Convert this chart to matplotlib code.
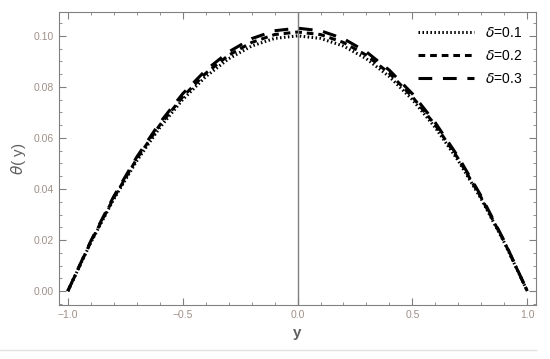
import matplotlib

matplotlib.use("Agg")
import matplotlib.pyplot as plt
from matplotlib.lines import Line2D
from matplotlib.ticker import MultipleLocator

# y grid and theta(y) profiles
y = [-1.0, -0.9, -0.8, -0.7, -0.6, -0.5, -0.4, -0.3, -0.2, -0.1, 0.0,
     0.1, 0.2, 0.3, 0.4, 0.5, 0.6, 0.7, 0.8, 0.9, 1.0]
theta_d1 = [0.0, 0.0190, 0.0360, 0.0510, 0.0640, 0.0750, 0.0840, 0.0910, 0.0960, 0.0990, 0.1000,
            0.0990, 0.0960, 0.0910, 0.0840, 0.0750, 0.0640, 0.0510, 0.0360, 0.0190, 0.0]
theta_d2 = [0.0, 0.0193, 0.0365, 0.0518, 0.0650, 0.0761, 0.0853, 0.0924, 0.0974, 0.1005, 0.1015,
            0.1005, 0.0974, 0.0924, 0.0853, 0.0761, 0.0650, 0.0518, 0.0365, 0.0193, 0.0]
theta_d3 = [0.0, 0.0196, 0.0371, 0.0525, 0.0659, 0.0773, 0.0865, 0.0937, 0.0989, 0.1020, 0.1030,
            0.1020, 0.0989, 0.0937, 0.0865, 0.0773, 0.0659, 0.0525, 0.0371, 0.0196, 0.0]
labels = [r"$\delta$=0.1", r"$\delta$=0.2", r"$\delta$=0.3"]

plt.rcParams["font.family"] = ["Liberation Sans", "DejaVu Sans"]
plt.rcParams["mathtext.fontset"] = "dejavusans"

frame_col = "#808080"
tick_col = "#a09088"

fig = plt.figure(figsize=(5.5, 3.59), dpi=100)
ax = fig.add_axes([0.107, 0.150, 0.868, 0.817])

ax.plot(y, theta_d1, color="black", lw=2.2, linestyle=(0, (0.5, 0.8)), label=labels[0])
ax.plot(y, theta_d2, color="black", lw=2.2, linestyle=(0, (2.2, 1.6)), label=labels[1])
ax.plot(y, theta_d3, color="black", lw=2.2, linestyle=(0, (4.5, 3.5)), label=labels[2])
ax.axvline(0, color=frame_col, lw=1)

ax.set_xlim(-1.039, 1.039)
ax.set_ylim(-0.0055, 0.1094)
ax.xaxis.set_major_locator(MultipleLocator(0.5))
ax.xaxis.set_minor_locator(MultipleLocator(0.1))
ax.yaxis.set_major_locator(MultipleLocator(0.02))
ax.yaxis.set_minor_locator(MultipleLocator(0.005))
ax.xaxis.set_major_formatter(plt.FuncFormatter(lambda v, p: f"{v:.1f}".replace("-", "\u2212")))
ax.yaxis.set_major_formatter(plt.FuncFormatter(lambda v, p: f"{v:.2f}"))
ax.tick_params(which="both", direction="in", top=True, right=True, color=frame_col,
               labelcolor=tick_col, labelsize=7.5)
ax.tick_params(which="major", length=5)
ax.tick_params(which="minor", length=2.5)
for s in ax.spines.values():
    s.set_color(frame_col)

ax.set_xlabel("y", fontsize=11, fontweight="bold", color="#606060")
ax.set_ylabel(r"$\theta$( y)", fontsize=11, color="#606060")

ax.legend(loc="upper right", frameon=False, fontsize=10, handlelength=4.0,
          labelspacing=0.65, borderaxespad=0.6)

fig.add_artist(Line2D([0.0, 0.975], [0.025, 0.025], color="#e0e0e0", lw=1))

fig.savefig("out.png", dpi=100)
